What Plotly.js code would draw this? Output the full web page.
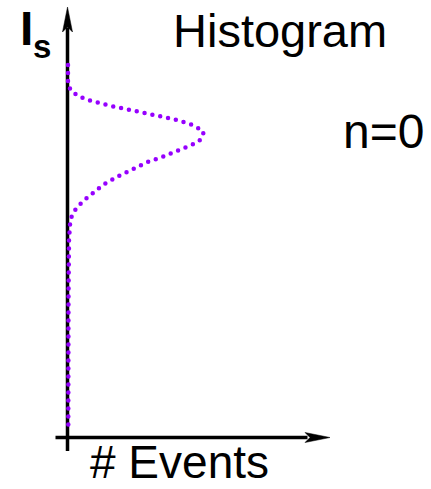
<!DOCTYPE html>
<html>
<head>
<meta charset="utf-8">
<script src="https://cdn.plot.ly/plotly-3.0.1.min.js"></script>
<style>
html,body{margin:0;padding:0;background:#fff;}
#chart .js-line{stroke-linecap:round;}
</style>
</head>
<body>
<div id="chart" style="width:431px;height:489px;"></div>
<script>
// Histogram profile: number of events (x) versus signal current I_s (y)
const events = [0.05, 0.05, 0.35, 1.05, 1.82, 2.58, 4.22, 5.82, 7.42, 9.05, 10.65, 12.25, 12.95, 13.62,
                13.32, 12.62, 11.12, 9.55, 8.02, 6.52, 5.05, 3.58, 2.95, 2.28, 1.65, 1.08, 0.55, 0.28,
                0.18, 0.15, 0.10, 0.08];
const current = [37.25, 35.35, 34.65, 34.18, 33.82, 33.58, 33.18, 32.85, 32.52, 32.18, 31.82, 31.35, 31.02, 30.52,
                 29.78, 29.35, 28.72, 28.08, 27.55, 26.85, 26.12, 25.28, 24.78, 24.25, 23.72, 23.15, 22.48, 21.72,
                 20.88, 19.75, 13.75, 1.25];

const titleText = "Histogram";
const xLabel = "# Events";
const yLabelMain = "I";
const yLabelSub = "s";
const stateLabel = "n=0";

const FONT = "Liberation Sans, Arial, sans-serif";
const trace = {
  x: events, y: current, type: "scatter", mode: "lines",
  line: {color: "rgb(150,0,255)", width: 4.5, dash: "0px,8px"},
  hoverinfo: "none"
};

const ax = "rgb(0,0,0)";
const layout = {
  width: 431, height: 489,
  margin: {l: 0, r: 0, t: 0, b: 0, pad: 0},
  paper_bgcolor: "#fff", plot_bgcolor: "#fff",
  showlegend: false,
  xaxis: {range: [-6.75, 36.35], visible: false, fixedrange: true},
  yaxis: {range: [-5.15, 43.75], visible: false, fixedrange: true},
  shapes: [
    {type: "line", layer: "below", x0: 0, x1: 0, y0: -1.35, y1: 41.0, line: {color: ax, width: 3.5}},
    {type: "path", layer: "below", path: "M 0,43.05 L 0.5,40.55 L 0,41.05 L -0.5,40.55 Z", fillcolor: ax, line: {color: ax, width: 0.5}},
    {type: "line", layer: "below", x0: -1.2, x1: 24.0, y0: 0, y1: 0, line: {color: ax, width: 3.5}},
    {type: "path", layer: "below", path: "M 26.25,0 L 23.75,0.5 L 24.25,0 L 23.75,-0.5 Z", fillcolor: ax, line: {color: ax, width: 0.5}}
  ],
  annotations: [
    {x: 21.25, y: 40.75, text: titleText, showarrow: false, xanchor: "center", yanchor: "middle",
     font: {family: FONT, size: 47, color: "#000"}},
    {x: 31.6, y: 30.6, text: stateLabel, showarrow: false, xanchor: "center", yanchor: "middle",
     font: {family: FONT, size: 48, color: "#000"}},
    {x: 11.15, y: -2.4, text: xLabel, showarrow: false, xanchor: "center", yanchor: "middle", borderpad: 0,
     font: {family: FONT, size: 46, color: "#000"}},
    {x: -4.11, y: 40.9, text: "<b>" + yLabelMain + "</b>", showarrow: false, xanchor: "center", yanchor: "middle",
     font: {family: FONT, size: 48, color: "#000"}},
    {x: -2.6, y: 39.1, text: "<b>" + yLabelSub + "</b>", showarrow: false, xanchor: "center", yanchor: "middle",
     font: {family: FONT, size: 33, color: "#000"}}
  ]
};

Plotly.newPlot("chart", [trace], layout, {displayModeBar: false, staticPlot: true});
</script>
</body>
</html>
